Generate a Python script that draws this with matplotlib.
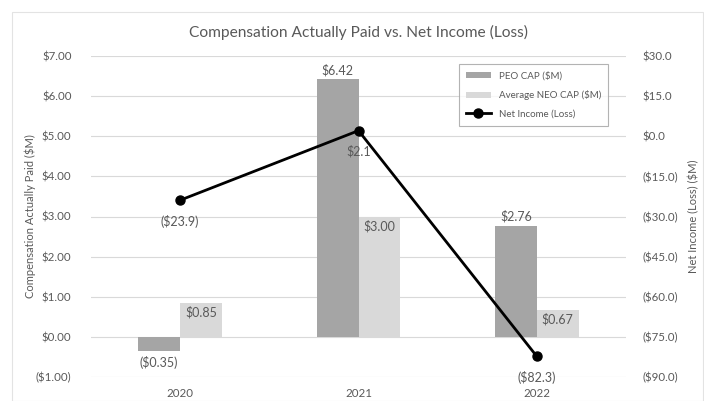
import matplotlib
matplotlib.use("Agg")
import matplotlib.pyplot as plt
import numpy as np
from matplotlib.patches import Rectangle

years = ["2020", "2021", "2022"]
peo_cap = [-0.35, 6.42, 2.76]
neo_cap = [0.85, 3.00, 0.67]
net_income = [-23.9, 2.1, -82.3]
left_ticks = [-1, 0, 1, 2, 3, 4, 5, 6, 7]
right_ticks = [-90, -75, -60, -45, -30, -15, 0, 15, 30]

def money2(v):
    return f"(${abs(v):.2f})" if v < 0 else f"${v:.2f}"

def money1(v):
    return f"(${abs(v):.1f})" if v < 0 else f"${v:.1f}"

plt.rcParams['font.family'] = ['Lato', 'DejaVu Sans']
txt = '#595959'
fig = plt.figure(figsize=(7.04, 4.01), dpi=100)
fig.patches.append(Rectangle((12/704, 0), 1 - 13/704, 1 - 12/401, transform=fig.transFigure,
                             fill=False, edgecolor='#e3e3e3', lw=0.8))
ax = fig.add_axes([91/704, 24/401, 535/704, 321/401])
ax2 = ax.twinx()

x = np.arange(len(years))
w = 0.235
ax.bar(x - w/2, peo_cap, w, color='#a5a5a5', label='PEO CAP ($M)', zorder=2)
ax.bar(x + w/2, neo_cap, w, color='#d9d9d9', label='Average NEO CAP ($M)', zorder=2)

ax.set_xlim(-0.5, 2.5)
ax.set_ylim(-1, 7)
ax.set_yticks(left_ticks)
ax.set_yticklabels([money2(v) for v in left_ticks])
ax.yaxis.grid(True, color='#d9d9d9', lw=0.8)
ax.set_axisbelow(True)
ax.set_xticks(x)
ax.set_xticklabels(years)
for s in ax.spines.values():
    s.set_visible(False)
for s in ax2.spines.values():
    s.set_visible(False)
ax.tick_params(length=0, colors=txt, labelsize=8.3)
ax.tick_params(axis='y', pad=14)
ax.tick_params(axis='x', pad=8)
ax.set_ylabel('Compensation Actually Paid ($M)', color=txt, fontsize=8)
ax.yaxis.set_label_coords((36 - 91) / 535, 0.5)

for xi, v in zip(x, peo_cap):
    if v >= 0:
        ax.text(xi - w/2, v + 0.08, money2(v), ha='center', va='bottom', color=txt, fontsize=9)
    else:
        ax.text(xi - w/2, v - 0.12, money2(v), ha='center', va='top', color=txt, fontsize=9)
for xi, v in zip(x, neo_cap):
    ax.text(xi + w/2, v - 0.08, money2(v), ha='center', va='top', color=txt, fontsize=9)

ax2.plot(x, net_income, color='black', lw=2, marker='o', markersize=6.5, label='Net Income (Loss)', zorder=3)
ax2.set_ylim(-90, 30)
ax2.set_yticks(right_ticks)
ax2.set_yticklabels([money1(v) for v in right_ticks], ha='left')
ax2.tick_params(length=0, colors=txt, labelsize=8.3, pad=12)
ax2.set_ylabel('Net Income (Loss) ($M)', color=txt, fontsize=8)
ax2.yaxis.set_label_coords((688 - 91) / 535, 0.5)
for xi, v in zip(x, net_income):
    ax2.text(xi, v - 5.5, money1(v), ha='center', va='top', color=txt, fontsize=9)

ax.set_title('Compensation Actually Paid vs. Net Income (Loss)', color=txt, fontsize=11.2, pad=14)

h1, l1 = ax.get_legend_handles_labels()
h2, l2 = ax2.get_legend_handles_labels()
leg = ax2.legend(h1 + h2, l1 + l2, loc='upper right', bbox_to_anchor=(0.975, 0.99), fontsize=7,
                 frameon=True, fancybox=False, edgecolor='#a0a0a0', labelcolor=txt,
                 handlelength=2.6, handleheight=0.6, borderpad=0.7, labelspacing=1.0)
leg.get_frame().set_linewidth(0.8)

fig.savefig('out.png', dpi=100)
